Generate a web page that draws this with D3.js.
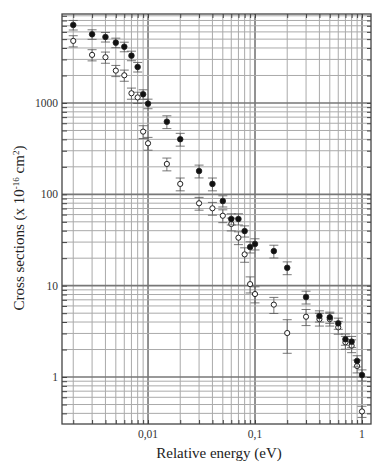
<!DOCTYPE html>
<html><head><meta charset="utf-8">
<script src="https://cdn.jsdelivr.net/npm/d3@7"></script>
<style>body{margin:0;background:#fff}svg{display:block}</style>
</head><body>
<svg id="c" width="372" height="465"></svg>
<script>
// Data
const filledE = [0.002,0.003,0.004,0.005,0.006,0.007,0.008,0.009,0.01,0.015,0.02,0.03,0.04,0.05,0.06,0.07,0.08,0.09,0.1,0.15,0.2,0.3,0.4,0.5,0.6,0.7,0.8,0.9,1.0];
const filledS = [7150,5650,5280,4575,4130,3295,2480,1245,983,624,401,180,130,84.5,53.7,53.7,39.6,26.5,28.6,23.9,15.7,7.5,4.65,4.5,3.87,2.59,2.44,1.5,1.05];
const filledErr = [0.12,0.12,0.12,0.12,0.12,0.12,0.12,0.12,0.12,0.16,0.16,0.16,0.16,0.14,0.14,0.14,0.14,0.14,0.14,0.16,0.16,0.16,0.14,0.14,0.14,0.14,0.14,0.14,0.14];
const openE = [0.002,0.003,0.004,0.005,0.006,0.007,0.008,0.009,0.01,0.015,0.02,0.03,0.04,0.05,0.06,0.07,0.08,0.09,0.1,0.15,0.2,0.3,0.4,0.5,0.6,0.7,0.8,0.9,1.0];
const openS = [4780,3360,3165,2260,2010,1277,1150,486,362,215,130,79.8,70.3,58.3,47.3,33.5,22,10.4,8.1,6.2,3.03,4.57,4.3,4.3,3.5,2.4,2.2,1.32,0.42];
const openErr = [0.14,0.14,0.14,0.14,0.14,0.14,0.14,0.16,0.16,0.16,0.16,0.16,0.16,0.16,0.16,0.16,0.18,0.2,0.2,0.2,0.4,0.2,0.16,0.16,0.16,0.16,0.16,0.16,0.14];
const xTickVals = [0.01,0.1,1];
const xTickLabels = ["0,01","0,1","1"];
const yTickVals = [1,10,100,1000];
const yTickLabels = ["1","10","100","1000"];

const svg = d3.select("#c");
const L=62, R=371, T=14, B=424;
const x = d3.scaleLog().domain([0.00157,1.214]).range([L,R]);
const y = d3.scaleLog().domain([0.306,9420]).range([B,T]);

// grid values
const xGrid=[], yGrid=[];
for (let d=-3; d<=0; d++) for (let m=1;m<=9;m++){const v=m*Math.pow(10,d); if(v>=x.domain()[0]&&v<=x.domain()[1]) xGrid.push(v);}
for (let d=-1; d<=3; d++) for (let m=1;m<=9;m++){const v=m*Math.pow(10,d); if(v>=y.domain()[0]&&v<=y.domain()[1]) yGrid.push(v);}
const isMajor = v => Math.abs(Math.log10(v)-Math.round(Math.log10(v)))<1e-9;

const g = svg.append("g");
g.selectAll(".vg").data(xGrid).join("line")
  .attr("x1",d=>x(d)).attr("x2",d=>x(d)).attr("y1",T).attr("y2",B)
  .attr("stroke",d=>isMajor(d)?"#777":"#aaa").attr("stroke-width",d=>isMajor(d)?1.6:1);
g.selectAll(".hg").data(yGrid).join("line")
  .attr("y1",d=>y(d)).attr("y2",d=>y(d)).attr("x1",L).attr("x2",R)
  .attr("stroke",d=>isMajor(d)?"#777":"#aaa").attr("stroke-width",d=>isMajor(d)?1.6:1);

// axes with inward ticks
const ax = svg.append("g");
ax.append("g").attr("transform",`translate(0,${B})`)
  .call(d3.axisBottom(x).tickValues(xGrid).tickSize(-4).tickFormat(""))
  .call(s=>{s.select(".domain").remove(); s.selectAll("line").attr("stroke","#444");});
ax.append("g").attr("transform",`translate(0,${T})`)
  .call(d3.axisTop(x).tickValues(xGrid).tickSize(-4).tickFormat(""))
  .call(s=>{s.select(".domain").remove(); s.selectAll("line").attr("stroke","#444");});
ax.append("g").attr("transform",`translate(${L},0)`)
  .call(d3.axisLeft(y).tickValues(yGrid).tickSize(-5).tickFormat(""))
  .call(s=>{s.select(".domain").remove(); s.selectAll("line").attr("stroke","#444");});
ax.append("g").attr("transform",`translate(${R},0)`)
  .call(d3.axisRight(y).tickValues(yGrid).tickSize(-4).tickFormat(""))
  .call(s=>{s.select(".domain").remove(); s.selectAll("line").attr("stroke","#444");});
svg.append("rect").attr("x",L).attr("y",T).attr("width",R-L).attr("height",B-T)
  .attr("fill","none").attr("stroke","#444").attr("stroke-width",1.3);

// tick labels
const font = "'Liberation Serif','Times New Roman',serif";
svg.selectAll(".xl").data(xTickVals).join("text")
  .attr("x",d=>x(d)).attr("y",438).attr("text-anchor","middle")
  .attr("font-family",font).attr("font-size",11.5).attr("fill","#333")
  .text((d,i)=>xTickLabels[i]);
svg.selectAll(".yl").data(yTickVals).join("text")
  .attr("x",58).attr("y",d=>y(d)+4).attr("text-anchor","end")
  .attr("font-family",font).attr("font-size",11.5).attr("fill","#333")
  .text((d,i)=>yTickLabels[i]);

// axis titles
svg.append("text").attr("x",219).attr("y",458).attr("text-anchor","middle")
  .attr("font-family",font).attr("font-size",15).attr("fill","#222")
  .text("Relative energy (eV)");
const yt = svg.append("text").attr("transform","translate(24,228) rotate(-90)")
  .attr("text-anchor","middle").attr("font-family",font).attr("font-size",15).attr("fill","#222");
yt.append("tspan").text("Cross sections (x 10");
yt.append("tspan").attr("baseline-shift","super").attr("font-size",9).text("-16");
yt.append("tspan").text(" cm");
yt.append("tspan").attr("baseline-shift","super").attr("font-size",9).text("2");
yt.append("tspan").text(")");

// error bars and markers
function series(E,S,Er,filled){
  const data = E.map((e,i)=>({e,s:S[i],er:Er[i]}));
  const gg = svg.append("g");
  const eb = gg.selectAll("g.eb").data(data).join("g").attr("stroke","#555").attr("stroke-width",0.8);
  eb.append("line").attr("x1",d=>x(d.e)).attr("x2",d=>x(d.e))
    .attr("y1",d=>y(d.s*(1+d.er))).attr("y2",d=>y(d.s*(1-d.er)));
  eb.append("line").attr("x1",d=>x(d.e)-4.5).attr("x2",d=>x(d.e)+4.5)
    .attr("y1",d=>y(d.s*(1+d.er))).attr("y2",d=>y(d.s*(1+d.er)));
  eb.append("line").attr("x1",d=>x(d.e)-4.5).attr("x2",d=>x(d.e)+4.5)
    .attr("y1",d=>y(d.s*(1-d.er))).attr("y2",d=>y(d.s*(1-d.er)));
  gg.selectAll("circle").data(data).join("circle")
    .attr("cx",d=>x(d.e)).attr("cy",d=>y(d.s)).attr("r",filled?2.8:2.6)
    .attr("fill",filled?"#111":"#fff").attr("stroke","#222").attr("stroke-width",filled?0.8:1);
}
series(openE,openS,openErr,false);
series(filledE,filledS,filledErr,true);
</script>
</body></html>
